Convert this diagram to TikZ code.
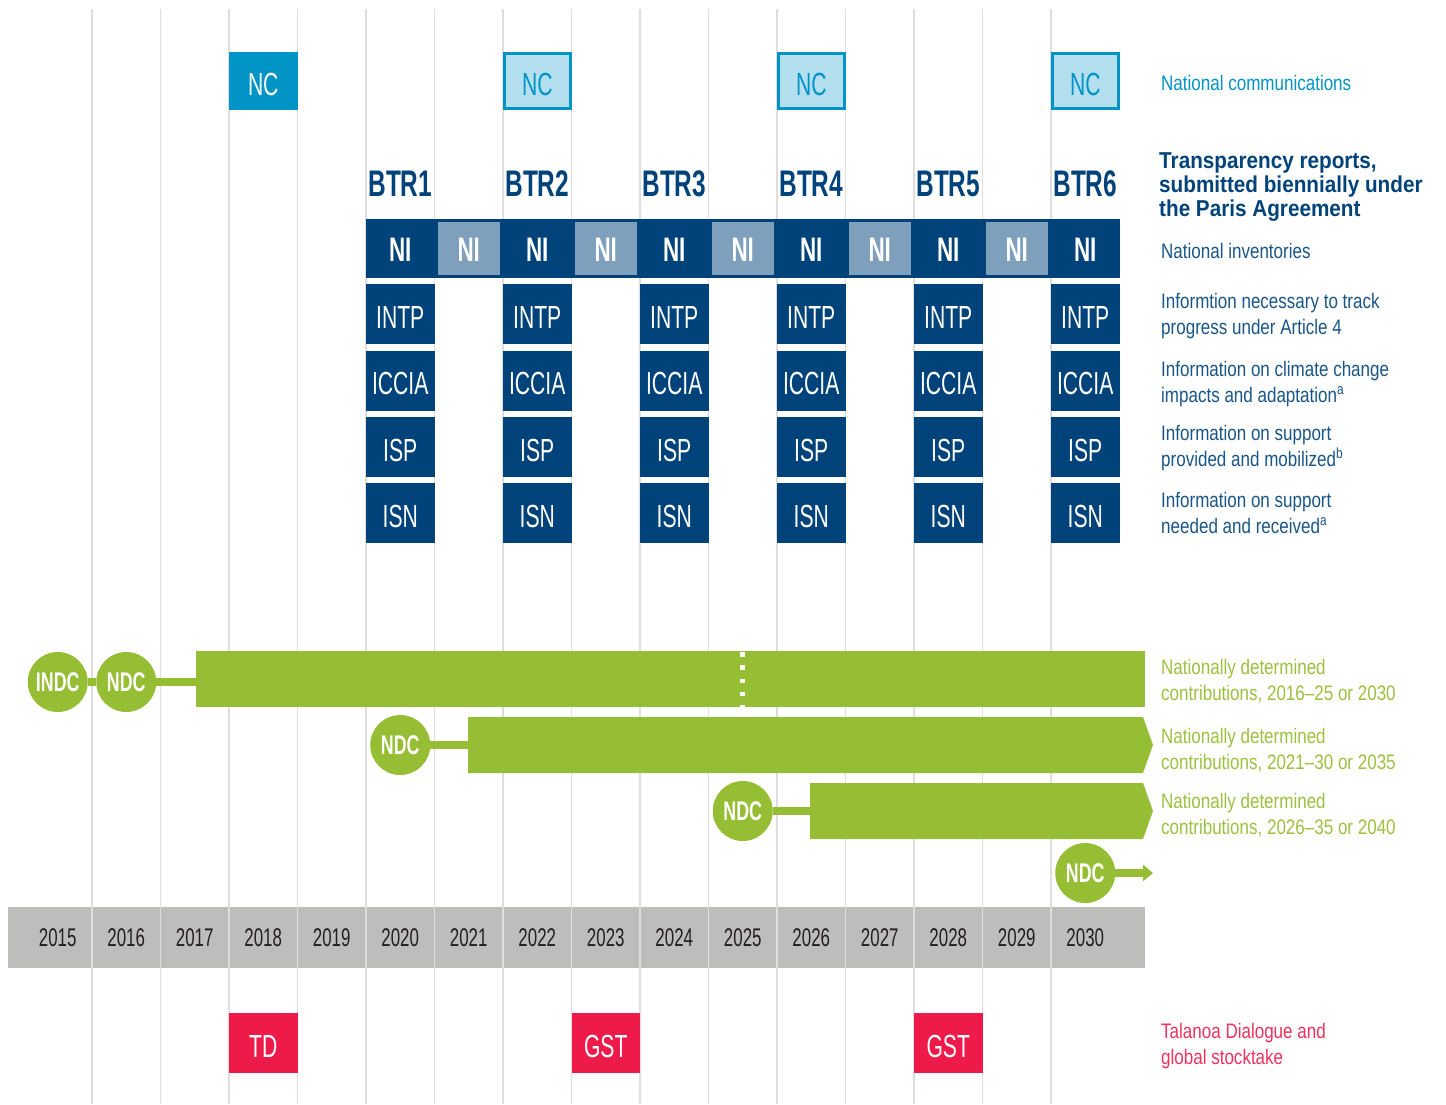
\documentclass[tikz,border=0pt]{standalone}
\usepackage{fontspec}
\setmainfont[FakeStretch=0.81]{Liberation Sans}
\newfontfamily\condfont[FakeStretch=0.66]{Liberation Sans}
\newfontfamily\titlefont[FakeStretch=0.9]{Liberation Sans}
\usetikzlibrary{positioning,arrows.meta}

\definecolor{udark}{RGB}{0,67,122}
\definecolor{ulight}{RGB}{127,160,189}
\definecolor{ncblue}{RGB}{0,147,198}
\definecolor{nclight}{RGB}{179,223,238}
\definecolor{ndcgreen}{RGB}{150,190,52}
\definecolor{gstred}{RGB}{238,26,74}
\definecolor{yearband}{RGB}{189,189,188}
\definecolor{gridgray}{RGB}{222,222,222}
\definecolor{yeartext}{RGB}{35,31,32}

\tikzset{
  cell/.style={rectangle, inner sep=0pt, minimum width=68.5pt, minimum height=60pt,
    text height=28pt, text depth=0pt,
    text=white, font=\condfont\fontsize{32}{32}\selectfont},
  ncfull/.style={cell, minimum height=58pt, fill=ncblue},
  ncpale/.style={cell, minimum width=65.5pt, minimum height=55pt, fill=nclight,
    draw=ncblue, line width=3pt, text=ncblue},
  nidark/.style={cell, minimum height=59pt, fill=udark, text height=26pt,
    font=\condfont\bfseries\fontsize{34}{34}\selectfont},
  nipale/.style={nidark, minimum width=65.5pt, minimum height=56pt, fill=ulight,
    draw=udark, line width=3pt},
  btrcell/.style={cell, fill=udark},
  gstcell/.style={cell, fill=gstred},
  btrlabel/.style={inner sep=0pt, text=udark, font=\condfont\bfseries\fontsize{37}{37}\selectfont},
  yearlabel/.style={inner sep=0pt, text=yeartext, font=\condfont\fontsize{25.6}{25.6}\selectfont},
  ndcdot/.style={circle, fill=ndcgreen, inner sep=0pt, minimum size=60pt, text=white,
    font=\condfont\bfseries\fontsize{27}{27}\selectfont},
  ndclink/.style={draw=ndcgreen, line width=8.5pt},
  gridline/.style={draw=gridgray, line width=1.6pt},
  legend/.style={anchor=base west, inner sep=0pt, align=left, text=udark!90!white,
    font=\fontsize{21}{26}\selectfont},
}

\begin{document}
\begin{tikzpicture}[x=1pt, y=-1pt]
\useasboundingbox (0,0) rectangle (1446,1104);
% year band and grid
\fill[yearband] (8,907) rectangle (1145,968);
\foreach \k in {0,...,14}
  \draw[gridline] ({92+\k*68.5},9) -- ++(0,1095);
\foreach \y in {2015,...,2030} {
  \pgfmathsetmacro{\cx}{126.25+(\y-2016)*68.5}
  \node[yearlabel] (yr\y) at (\cx,937.5) {\y};
}
% national communications
\node[ncfull] (nc2018) at (yr2018 |- 0,81) {NC};
\foreach \y in {2022,2026,2030}
  \node[ncpale] (nc\y) at (yr\y |- 0,81) {NC};
% transparency reports
\foreach \y [count=\i] in {2020,2022,...,2030} {
  \node[btrlabel] (btr\i) at (yr\y |- 0,184) {BTR\i};
  \node[nidark] (ni\y) at (yr\y |- 0,248.5) {NI};
  \foreach \r/\ry in {INTP/314,ICCIA/380.5,ISP/447,ISN/513}
    \node[btrcell] (\r\y) at (yr\y |- 0,\ry) {\r};
}
\foreach \y in {2021,2023,...,2029}
  \node[nipale] (ni\y) at (yr\y |- 0,248.5) {NI};
% NDC bars
\fill[ndcgreen] (196,651) rectangle (1145,707);
\draw[white, line width=5pt, dash pattern=on 4.5pt off 8.8pt] (yr2025 |- 0,652) -- (yr2025 |- 0,707);
\fill[ndcgreen] (468,717) -- (1143,717) -- (1153,745) -- (1143,773) -- (468,773) -- cycle;
\fill[ndcgreen] (810,783) -- (1143,783) -- (1153,811) -- (1143,839) -- (810,839) -- cycle;
\coordinate (bar1) at (196,682);
\coordinate (bar2) at (468,745);
\coordinate (bar3) at (810,811);
\coordinate (ndcend) at (1153,873);
\node[ndcdot] (indc) at (yr2015 |- 0,682) {INDC};
\node[ndcdot] (ndc2016) at (yr2016 |- 0,682) {NDC};
\node[ndcdot] (ndc2020) at (yr2020 |- 0,745) {NDC};
\node[ndcdot] (ndc2025) at (yr2025 |- 0,811) {NDC};
\node[ndcdot] (ndc2030) at (yr2030 |- 0,873) {NDC};
\draw[ndclink] (indc) -- (ndc2016) -- (bar1);
\draw[ndclink] (ndc2020) -- (bar2);
\draw[ndclink] (ndc2025) -- (bar3);
\draw[ndclink, -{Triangle[length=10pt,width=16pt]}] (ndc2030) -- (ndcend);
% dialogue and stocktakes
\node[gstcell] (td2018) at (yr2018 |- 0,1043) {TD};
\node[gstcell] (gst2023) at (yr2023 |- 0,1043) {GST};
\node[gstcell] (gst2028) at (yr2028 |- 0,1043) {GST};
% legend (base = last line)
\node[legend, text=ncblue] (lgnc) at (1161,90) {National communications};
\node[legend, text=udark, font=\titlefont\bfseries\fontsize{23}{24}\selectfont] (lgbtr) at (1159,216)
  {Transparency reports,\\submitted biennially under\\the Paris Agreement};
\node[legend] (lgni) at (1161,258) {National inventories};
\node[legend] (lgintp) at (1161,334) {Informtion necessary to track\\progress under Article 4};
\node[legend] (lgiccia) at (1161,402) {Information on climate change\\impacts and adaptation\textsuperscript{a}};
\node[legend] (lgisp) at (1161,466) {Information on support\\provided and mobilized\textsuperscript{b}};
\node[legend] (lgisn) at (1161,533) {Information on support\\needed and received\textsuperscript{a}};
\node[legend, text=ndcgreen!95!white] (lgndc1) at (1161,700) {Nationally determined\\contributions, 2016--25 or 2030};
\node[legend, text=ndcgreen!95!white] (lgndc2) at (1161,769) {Nationally determined\\contributions, 2021--30 or 2035};
\node[legend, text=ndcgreen!95!white] (lgndc3) at (1161,834) {Nationally determined\\contributions, 2026--35 or 2040};
\node[legend, text=gstred!90!white] (lggst) at (1161,1064) {Talanoa Dialogue and\\global stocktake};
\end{tikzpicture}
\end{document}
